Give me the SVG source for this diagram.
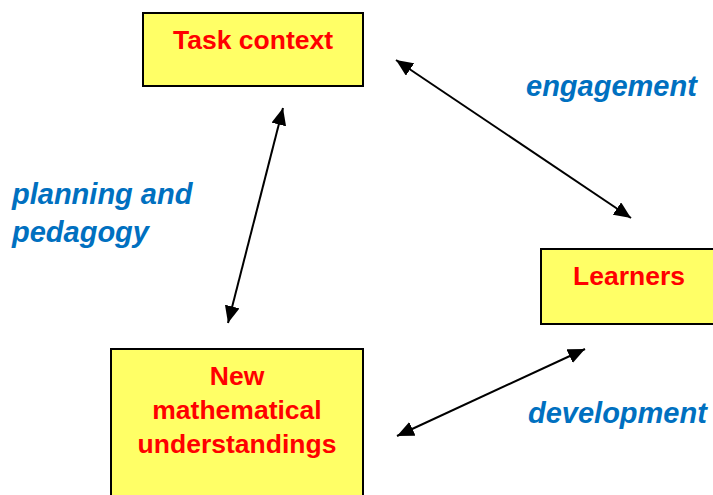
<svg xmlns="http://www.w3.org/2000/svg" width="713" height="495" viewBox="0 0 713 495">
<style>
.box{fill:#FFFF66;stroke:#000;stroke-width:2}
.title{font-family:"Liberation Sans",Arial,sans-serif;font-weight:bold;font-size:26.5px;fill:#FF0000;text-anchor:middle}
.lbl{font-family:"Liberation Sans",Arial,sans-serif;font-weight:bold;font-style:italic;font-size:29px;fill:#0070C0}
.conn{stroke:#000;stroke-width:2;fill:none;marker-start:url(#ah);marker-end:url(#ah)}
</style>
<defs>
<marker id="ah" viewBox="0 0 17 15" refX="17" refY="7.5" markerWidth="17" markerHeight="15" markerUnits="userSpaceOnUse" orient="auto-start-reverse">
<path d="M0,0 L17,7.5 L0,15 Z" fill="#000"/>
</marker>
</defs>
<rect width="713" height="495" fill="#fff"/>
<g id="connectors">
<line class="conn" x1="396" y1="60" x2="631" y2="218"/>
<line class="conn" x1="283" y1="108" x2="228" y2="323"/>
<line class="conn" x1="397" y1="436" x2="585" y2="349"/>
</g>
<g id="task-context">
<rect class="box" x="143" y="13" width="220" height="73"/>
<text class="title" x="253" y="49">Task context</text>
</g>
<g id="learners">
<rect class="box" x="541" y="249" width="180" height="75"/>
<text class="title" x="629" y="285">Learners</text>
</g>
<g id="new-math">
<rect class="box" x="111" y="349" width="252" height="160"/>
<text class="title" x="237" y="385">New</text>
<text class="title" x="237" y="419">mathematical</text>
<text class="title" x="237" y="453">understandings</text>
</g>
<g id="labels">
<text class="lbl" x="526" y="96">engagement</text>
<text class="lbl" x="12" y="204">planning and</text>
<text class="lbl" x="12" y="242">pedagogy</text>
<text class="lbl" x="528" y="423">development</text>
</g>
</svg>
